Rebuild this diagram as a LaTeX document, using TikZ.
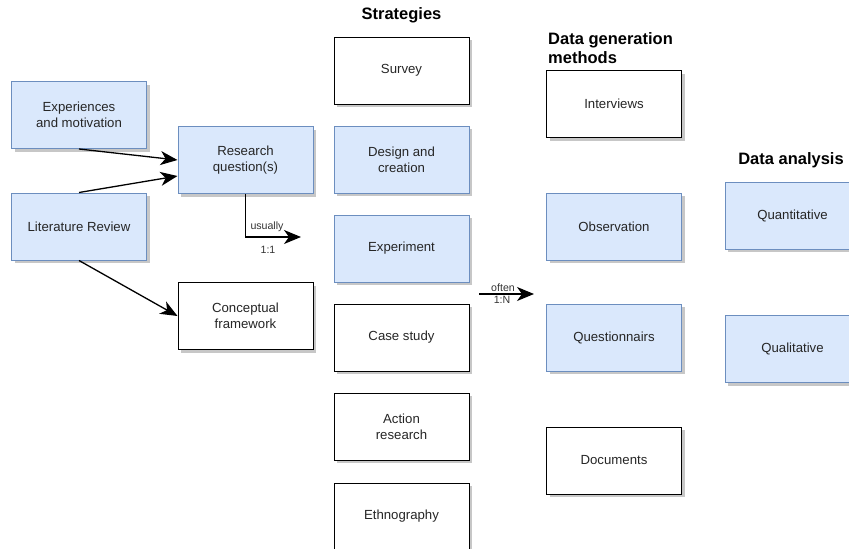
\documentclass[tikz,border=0pt]{standalone}
\usepackage{fontspec}
\setmainfont{Liberation Sans}
\usetikzlibrary{arrows.meta,calc,shadows}
\definecolor{boxblue}{HTML}{DAE8FC}
\definecolor{boxedge}{HTML}{6C8EBF}
\tikzset{
  card/.style={draw=black, fill=white, line width=1pt, minimum width=135pt, minimum height=67pt,
    align=center, inner sep=2pt, text=black!85,
    font=\fontsize{13.2}{16}\selectfont,
    drop shadow={shadow xshift=3pt, shadow yshift=-3pt, fill=black, opacity=0.22}},
  bluecard/.style={card, draw=boxedge, fill=boxblue},
  heading/.style={font=\bfseries\fontsize{16.5}{19}\selectfont, text=black},
  tag/.style={font=\fontsize{10.6}{12}\selectfont, text=black!80, inner sep=0pt},
  link/.style={draw=black, line width=1.3pt, -{Stealth[length=17pt,width=14pt,inset=5pt]}}
}
\begin{document}
\begin{tikzpicture}[x=1pt,y=-1pt]
\useasboundingbox (0,0) rectangle (849,549);
\clip (0,0) rectangle (849,549);

% inputs
\node[bluecard] (exp) at (79,115) {Experiences\\and motivation};
\node[bluecard] (lit) at (79,226.5) {Literature Review};
\node[bluecard] (rq) at (245.5,160) {Research\\question(s)};
\node[card] (cf) at (245.5,316) {Conceptual\\framework};

% strategies
\node[heading] (hstrat) at (401.5,15) {Strategies};
\node[card] (survey) at (401.5,70.5) {Survey};
\node[bluecard] (design) at (401.5,159.5) {Design and\\creation};
\node[bluecard] (experiment) at (401.5,248.5) {Experiment};
\node[card] (case) at (401.5,337.5) {Case study};
\node[card] (action) at (401.5,426.5) {Action\\research};
\node[card] (ethno) at (401.5,516.5) {Ethnography};

% data generation methods
\node[heading, anchor=west, align=left, inner sep=0pt] (hgen) at (548,48.5) {Data generation\\methods};
\node[card] (interviews) at (614,104) {Interviews};
\node[bluecard] (observation) at (614,226.5) {Observation};
\node[bluecard] (questionnaires) at (614,337.5) {Questionnairs};
\node[card] (documents) at (614,460.5) {Documents};

% data analysis
\node[heading] (hanalysis) at (791,160) {Data analysis};
\node[bluecard] (quant) at (792.5,215.5) {Quantitative};
\node[bluecard] (qual) at (792.5,349) {Qualitative};

% connectors
\draw[link] (exp.south) -- (rq.west);
\draw[link] (lit.north) -- ($(rq.west)+(0,16)$);
\draw[link] (lit.south) -- (cf.west);

\coordinate (usualEnd) at (301,237);
\draw[link] (rq.south) |- (usualEnd);
\node[tag] (usually) at (267,227) {usually};
\node[tag] (oneone) at (268,250) {1:1};

\coordinate (oftenStart) at (479,294);
\coordinate (oftenEnd) at (534,294);
\draw[link] (oftenStart) -- (oftenEnd);
\node[tag] (often) at (503,288) {often};
\node[tag] (onen) at (502,299.5) {1:N};
\end{tikzpicture}
\end{document}
